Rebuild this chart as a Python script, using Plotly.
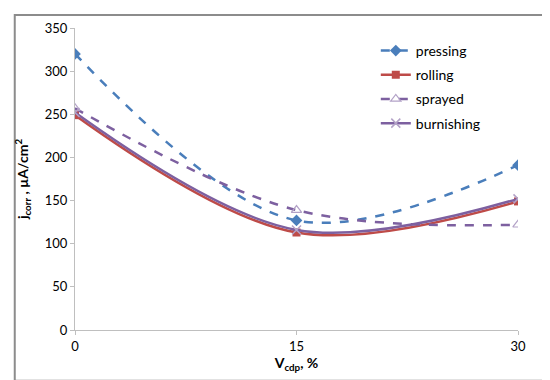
import plotly.graph_objects as go

x_vals = [0, 15, 30]
pressing = [320, 127, 191]
rolling = [249, 113, 149]
sprayed = [257, 139, 122]
burnishing = [252, 116, 152]
x_ticks = [0, 15, 30]
y_ticks = [0, 50, 100, 150, 200, 250, 300, 350]

FONT = "Lato"

fig = go.Figure()
fig.add_trace(go.Scatter(x=x_vals, y=pressing, name="pressing", mode="lines+markers",
                         line=dict(color="#4A7EBB", width=2.5, dash="dash", shape="spline", smoothing=1),
                         marker=dict(symbol="diamond", size=9, color="#4A7EBB"),
                         legendgroup="a"))
fig.add_trace(go.Scatter(x=x_vals, y=rolling, name="rolling", mode="lines+markers",
                         line=dict(color="#BE4B48", width=2.5, shape="spline", smoothing=1),
                         marker=dict(symbol="square", size=8, color="#BE4B48"),
                         legendgroup="b"))
fig.add_trace(go.Scatter(x=x_vals, y=sprayed, name="sprayed", mode="lines+markers",
                         line=dict(color="#7D60A0", width=2.5, dash="dash", shape="spline", smoothing=1),
                         marker=dict(symbol="triangle-up-open", size=9, color="#B3A2C7", line=dict(width=1.2)),
                         legendgroup="c"))
fig.add_trace(go.Scatter(x=x_vals, y=burnishing, name="burnishing", mode="lines+markers",
                         line=dict(color="#7D60A0", width=2.5, shape="spline", smoothing=1),
                         marker=dict(symbol="x-thin-open", size=9, color="#B3A2C7", line=dict(width=1.5, color="#B3A2C7")),
                         legendgroup="d"))

axis_common = dict(showgrid=False, zeroline=False, showline=True, linecolor="#BFBFBF", linewidth=1,
                   ticks="outside", tickcolor="#BFBFBF", ticklen=4,
                   tickfont=dict(family=FONT, size=13, color="#000000"))

fig.update_layout(
    width=550, height=380,
    margin=dict(l=67, r=40, t=18, b=58),
    paper_bgcolor="white", plot_bgcolor="white",
    font=dict(family=FONT, color="#000000"),
    xaxis=dict(range=[0, 30], tickvals=x_ticks, ticktext=[str(v) for v in x_ticks],
               title=dict(text="<b>V<sub>cdp</sub>, %</b>", font=dict(family=FONT, size=14), standoff=4),
               **axis_common),
    yaxis=dict(range=[0, 350], tickvals=y_ticks,
               title=dict(text="<b>j<sub>corr</sub> , µA/cm<sup>2</sup></b>", font=dict(family=FONT, size=14), standoff=12),
               **axis_common),
    legend=dict(x=0.679, y=0.977, xanchor="left", yanchor="top",
                font=dict(family=FONT, size=14, color="#000000"),
                bgcolor="rgba(0,0,0,0)", traceorder="grouped", tracegroupgap=3),
    showlegend=True,
)

fig.add_shape(type="rect", xref="paper", yref="paper",
              x0=-0.136, x1=1.079, y0=-0.168, y1=1.043,
              line=dict(color="#8C8C8C", width=2), fillcolor="rgba(0,0,0,0)", layer="above")

fig.write_html("out.html")
